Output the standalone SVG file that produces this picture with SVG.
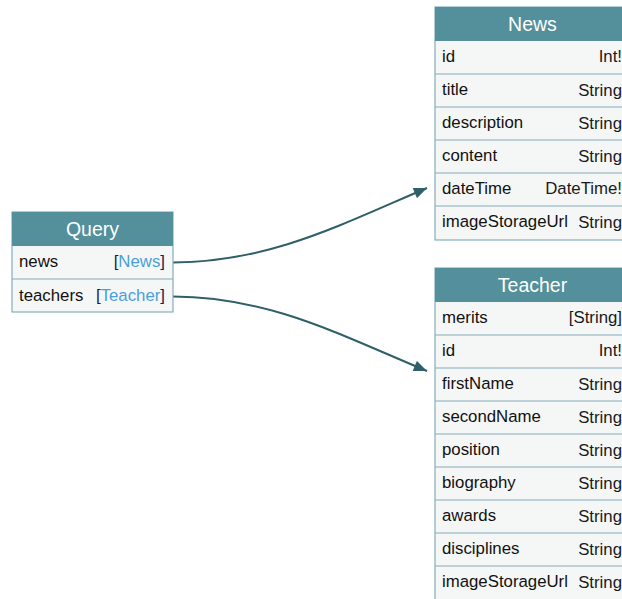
<svg xmlns="http://www.w3.org/2000/svg" width="622" height="599" viewBox="0 0 622 599">
  <style>
    .box { fill: #f5f7f7; stroke: #85adb9; stroke-width: 1.2; }
    .head { fill: #548f9c; }
    .sep { stroke: #85adb9; stroke-width: 1.2; }
    .title { font-family: "Liberation Sans", Arial, sans-serif; font-size: 19.5px; fill: #ffffff; text-anchor: middle; }
    .field { font-family: "Liberation Sans", Arial, sans-serif; font-size: 16.8px; fill: #111111; }
    .type { font-family: "Liberation Sans", Arial, sans-serif; font-size: 16.8px; fill: #1a1a1a; text-anchor: end; }
    .br { fill: #1b1b4d; }
    .ref { fill: #4a9fdc; }
    .edge { fill: none; stroke: #2f5f69; stroke-width: 2; }
  </style>
  <defs>
    <marker id="arrowhead" viewBox="0 0 12 10" refX="12" refY="5" markerWidth="14" markerHeight="11" markerUnits="userSpaceOnUse" orient="auto">
      <path d="M0,0 L12,5 L0,10 z" fill="#2f5f69"/>
    </marker>
  </defs>

  <g id="connectors">
    <path class="edge" d="M173,262.5 C270,262 340,225 427,188" marker-end="url(#arrowhead)"/>
    <path class="edge" d="M173,296.5 C270,297 340,335 427,371" marker-end="url(#arrowhead)"/>
  </g>

  <g id="node-query">
    <rect class="box" x="12" y="212" width="161" height="100"/>
    <rect class="head" x="12" y="212" width="161" height="34"/>
    <text class="title" x="92.5" y="236">Query</text>
    <line class="sep" x1="12" y1="279" x2="173" y2="279"/>
    <text class="field" x="19" y="267">news</text>
    <text class="type" x="165" y="267"><tspan class="br">[</tspan><tspan class="ref">News</tspan><tspan class="br">]</tspan></text>
    <text class="field" x="19" y="301">teachers</text>
    <text class="type" x="165" y="301"><tspan class="br">[</tspan><tspan class="ref">Teacher</tspan><tspan class="br">]</tspan></text>
  </g>

  <g id="node-news">
    <rect class="box" x="435" y="7" width="195" height="233"/>
    <rect class="head" x="435" y="7" width="195" height="34"/>
    <text class="title" x="532.5" y="31">News</text>
    <line class="sep" x1="435" y1="74" x2="630" y2="74"/>
    <line class="sep" x1="435" y1="107" x2="630" y2="107"/>
    <line class="sep" x1="435" y1="140" x2="630" y2="140"/>
    <line class="sep" x1="435" y1="173" x2="630" y2="173"/>
    <line class="sep" x1="435" y1="206" x2="630" y2="206"/>
    <text class="field" x="442" y="62">id</text><text class="type" x="622" y="62">Int!</text>
    <text class="field" x="442" y="95">title</text><text class="type" x="622" y="96">String</text>
    <text class="field" x="442" y="128">description</text><text class="type" x="622" y="129">String</text>
    <text class="field" x="442" y="161">content</text><text class="type" x="622" y="162">String</text>
    <text class="field" x="442" y="194">dateTime</text><text class="type" x="622" y="194">DateTime!</text>
    <text class="field" x="442" y="227">imageStorageUrl</text><text class="type" x="622" y="228">String</text>
  </g>

  <g id="node-teacher">
    <rect class="box" x="435" y="268" width="195" height="340"/>
    <rect class="head" x="435" y="268" width="195" height="34"/>
    <text class="title" x="532.5" y="292">Teacher</text>
    <line class="sep" x1="435" y1="335" x2="630" y2="335"/>
    <line class="sep" x1="435" y1="368" x2="630" y2="368"/>
    <line class="sep" x1="435" y1="401" x2="630" y2="401"/>
    <line class="sep" x1="435" y1="434" x2="630" y2="434"/>
    <line class="sep" x1="435" y1="467" x2="630" y2="467"/>
    <line class="sep" x1="435" y1="500" x2="630" y2="500"/>
    <line class="sep" x1="435" y1="533" x2="630" y2="533"/>
    <line class="sep" x1="435" y1="566" x2="630" y2="566"/>
    <text class="field" x="442" y="323">merits</text><text class="type" x="622" y="323">[String]</text>
    <text class="field" x="442" y="356">id</text><text class="type" x="622" y="356">Int!</text>
    <text class="field" x="442" y="389">firstName</text><text class="type" x="622" y="390">String</text>
    <text class="field" x="442" y="422">secondName</text><text class="type" x="622" y="423">String</text>
    <text class="field" x="442" y="455">position</text><text class="type" x="622" y="456">String</text>
    <text class="field" x="442" y="488">biography</text><text class="type" x="622" y="489">String</text>
    <text class="field" x="442" y="521">awards</text><text class="type" x="622" y="522">String</text>
    <text class="field" x="442" y="554">disciplines</text><text class="type" x="622" y="555">String</text>
    <text class="field" x="442" y="587">imageStorageUrl</text><text class="type" x="622" y="588">String</text>
  </g>
</svg>
